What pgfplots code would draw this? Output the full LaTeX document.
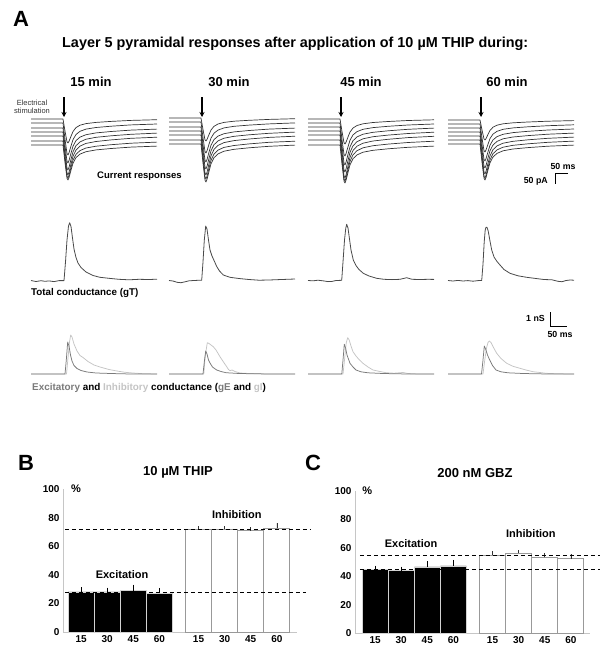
\documentclass[border=0pt]{standalone}
\usepackage{pgfplots}
\pgfplotsset{compat=1.18}
\usepackage{pgfplotstable}
\usepackage{fontspec}
\setmainfont{Liberation Sans}
\usetikzlibrary{arrows.meta}
\definecolor{gEc}{HTML}{7A7A7A}
\definecolor{gIc}{HTML}{C4C4C4}
\definecolor{gTc}{HTML}{4A4A4A}
\definecolor{trc}{HTML}{333333}
\newcommand{\fs}[1]{\fontsize{#1}{#1}\selectfont}

% current traces: x (local, px-like time units), 7 traces (downward position)
\pgfplotstableread{
x a b c d e f g
0 119 123 128 132 136 141 145
32 119 123 128 132 136 141 145
34 131 139 145.5 151 155.5 159.5 162.5
36 141.8 153.4 161.3 168.1 173 176.2 178.3
37 143 155 163 170 175 178 180
38 141.3 152.8 160.6 167.3 172.3 175.4 177.6
40 136.3 146 153.2 159.4 164.1 167.6 170.2
42 131.5 139.6 146.2 151.8 156.3 160.2 163.2
45 127.6 134.5 140.6 145.7 150 154.3 157.6
49 125.2 131.3 137.1 141.9 146.1 150.6 154.1
55 123.6 129.1 134.7 139.2 143.4 148 151.7
65 122.4 127.5 132.9 137.3 141.5 146.2 149.9
80 121.4 126.2 131.5 135.8 139.9 144.7 148.5
100 120.4 124.9 130.1 134.3 138.3 143.2 147.1
126 119.7 124 129.1 133.1 137.2 142.1 146.1
}\curA
\pgfplotstableread{
x a b c d e f g
0 118 122 127 131 135 140 144
32 118 122 127 131 135 140 144
34 129.5 137.5 144.5 150 155 159.5 163
36 139.9 151.5 160.3 167.1 173 177 180.1
37 141 153 162 169 175 179 182
38 139.4 150.8 159.6 166.3 172.2 176.3 179.3
40 134.6 144.3 152.2 158.4 163.8 168.1 171.4
42 130 138.1 145.2 150.8 155.8 160.3 163.8
45 126.3 133.2 139.6 144.7 149.4 154 157.7
49 124 130.1 136.1 140.9 145.4 150.1 153.9
55 122.4 127.9 133.7 138.2 142.6 147.4 151.2
65 121.2 126.3 131.9 136.3 140.6 145.5 149.3
80 120.3 125.1 130.5 134.8 139 143.9 147.8
100 119.4 123.9 129.1 133.3 137.4 142.3 146.3
126 118.7 122.9 128.1 132.1 136.2 141.2 145.1
}\curB
\pgfplotstableread{
x a b c d e f g
0 119 123 127 131 135 140 145
32 119 123 127 131 135 140 145
34 131.5 139.5 146 151.5 156.5 160.5 164
36 142.8 154.4 163.1 170 175.9 179 181.1
37 144 156 165 172 178 181 183
38 142.3 153.7 162.3 169.1 175 178.1 180.3
40 137 146.8 154.4 160.5 166 169.5 172.4
42 132 140.2 146.8 152.3 157.4 161.3 164.8
45 128 134.9 140.7 145.8 150.5 154.8 158.7
49 125.5 131.6 136.9 141.7 146.2 150.7 154.9
55 123.8 129.3 134.2 138.8 143.2 147.8 152.2
65 122.5 127.6 132.3 136.7 141 145.7 150.3
80 121.5 126.3 130.8 135.1 139.3 144.1 148.8
100 120.5 125 129.3 133.5 137.6 142.5 147.3
126 119.8 124 128.1 132.2 136.3 141.2 146.1
}\curC
\pgfplotstableread{
x a b c d e f g
0 120 124 128 132 136 140 144
32 120 124 128 132 136 140 144
34 130 138 144.5 150 155 159 162
36 139 150.6 159.4 166.2 172.1 176.1 178.2
37 140 152 161 168 174 178 180
38 138.6 150 158.7 165.5 171.3 175.3 177.5
40 134.4 144.2 151.8 157.9 163.4 167.4 169.9
42 130.4 138.6 145.2 150.7 155.8 159.8 162.7
45 127.2 134.1 139.9 145 149.7 153.7 157
49 125.2 131.3 136.6 141.4 145.9 149.9 153.4
55 123.8 129.3 134.3 138.8 143.2 147.2 150.8
65 122.8 127.9 132.6 137 141.3 145.3 149
80 122 126.8 131.3 135.6 139.8 143.8 147.6
100 121.2 125.7 130 134.2 138.3 142.3 146.2
126 120.6 124.8 129 133.1 137.1 141.1 145.1
}\curD

\pgfplotsset{
  trace/.style={hide axis, x=1pt, y=1pt, xmin=0, xmax=126, clip=false,
    anchor=north west, y filter/.expression={-y}},
  rowI/.style={trace, ymin=-186, ymax=-95},
  rowT/.style={trace, ymin=-290, ymax=-215},
  rowE/.style={trace, ymin=-378, ymax=-330},
  cur/.style={trc, line width=0.7pt, line join=round},
  stim/.style={black, line width=1.3pt, -{Stealth[length=5pt,width=5pt]}},
  gT/.style={gTc, line width=0.8pt, line join=round},
  gE/.style={gEc, line width=0.75pt, line join=round},
  gI/.style={gIc, line width=0.75pt, line join=round},
  sbar/.style={black, line width=0.9pt},
  barax/.style={x=26.1pt, ymin=0, ymax=100, clip=false,
    axis x line*=bottom, axis y line*=left,
    axis line style={draw=gray!45, line width=0.8pt},
    ytick={0,20,40,60,80,100},
    xtick={1,2,3,4,5.5,6.5,7.5,8.5},
    xticklabels={15,30,45,60,15,30,45,60},
    major tick length=0pt,
    /pgf/number format/assume math mode=true,
    ticklabel style={font=\fs{10}\bfseries},
    anchor=south west},
  exbar/.style={ybar, bar width=1, bar shift=0pt, fill=black, draw=gray!35, line width=0.7pt,
    error bars/.cd, y dir=plus, y explicit, error mark=none,
    error bar style={line width=0.6pt, black}},
  inbar/.style={ybar, bar width=1, bar shift=0pt, fill=white, draw=gray!80, line width=0.9pt,
    error bars/.cd, y dir=plus, y explicit, error mark=none,
    error bar style={line width=0.6pt, black!80}},
  dline/.style={black, line width=0.9pt, dash pattern=on 4pt off 3pt},
}

\begin{document}
\begin{tikzpicture}
\path[use as bounding box] (0pt,0pt) rectangle (604pt,-653pt);

% ---- texts, panel A ----
\node[anchor=base west, inner sep=0pt, font=\fs{22}\bfseries] at (13pt,-26pt) {A};
\node[anchor=base west, inner sep=0pt, font=\fs{14.4}\bfseries] at (62pt,-47pt)
  {Layer 5 pyramidal responses after application of 10 µM THIP during:};
\foreach \xx/\tt in {91/15, 229/30, 361/45, 507/60}
  \node[anchor=base, inner sep=0pt, font=\fs{13}\bfseries] at (\xx pt,-86pt) {\tt\ min};
\node[anchor=base, inner sep=0pt, font=\fs{7.5}, text=black!80] at (32pt,-105.5pt) {Electrical};
\node[anchor=base, inner sep=0pt, font=\fs{7.5}, text=black!80] at (32pt,-113pt) {stimulation};
\node[anchor=base west, inner sep=0pt, font=\fs{9.5}\bfseries] at (97pt,-178.5pt) {Current responses};
\node[anchor=base, inner sep=0pt, font=\fs{8.8}\bfseries] at (563pt,-169pt) {50 ms};
\node[anchor=base east, inner sep=0pt, font=\fs{8.8}\bfseries] at (548pt,-183pt) {50 pA};
\node[anchor=base west, inner sep=0pt, font=\fs{9.8}\bfseries] at (31pt,-295.5pt) {Total conductance (gT)};
\node[anchor=base east, inner sep=0pt, font=\fs{8.8}\bfseries] at (545pt,-321pt) {1 nS};
\node[anchor=base, inner sep=0pt, font=\fs{8.8}\bfseries] at (560pt,-337pt) {50 ms};
\node[anchor=base west, inner sep=0pt, font=\fs{9.9}\bfseries] at (32pt,-390pt)
  {\textcolor{gEc}{Excitatory} and \textcolor{gIc}{Inhibitory} conductance (\textcolor{gEc}{gE} and \textcolor{gIc}{gI})};

% ---- row 1: current responses ----
\begin{axis}[rowI, at={(31pt,-95pt)}]
  \pgfplotsinvokeforeach{1,...,7}{\addplot[cur] table[x index=0, y index=#1]{\curA};}
  \addplot[stim] coordinates {(33,97) (33,117)};
\end{axis}
\begin{axis}[rowI, at={(169pt,-95pt)}]
  \pgfplotsinvokeforeach{1,...,7}{\addplot[cur] table[x index=0, y index=#1]{\curB};}
  \addplot[stim] coordinates {(33,97) (33,117)};
\end{axis}
\begin{axis}[rowI, at={(308pt,-95pt)}]
  \pgfplotsinvokeforeach{1,...,7}{\addplot[cur] table[x index=0, y index=#1]{\curC};}
  \addplot[stim] coordinates {(33,97) (33,117)};
\end{axis}
\begin{axis}[rowI, at={(448pt,-95pt)}]
  \pgfplotsinvokeforeach{1,...,7}{\addplot[cur] table[x index=0, y index=#1]{\curD};}
  \addplot[stim] coordinates {(33,97) (33,117)};
  \addplot[sbar] coordinates {(120,173) (107,173) (107,184)};
\end{axis}

% ---- row 2: total conductance ----
\begin{axis}[rowT, at={(31pt,-215pt)}]
  \addplot[gT] coordinates {(0,280.5)(5,281.5)(10,280.7)(14,281.3)(18,280.9)(23,281.6)(28,280.6)(33,280.6)(34.5,262)(36,240)(37.5,226)(38.7,222.7)(40,226.5)(41.5,238)(43,249)(45,257.5)(47,263)(50,267.5)(55,272)(62,275.5)(69,277.3)(78,278.3)(88,279.3)(98,279.8)(108,279.3)(118,279.5)(126,279.2)};
\end{axis}
\begin{axis}[rowT, at={(169pt,-215pt)}]
  \addplot[gT] coordinates {(0,280.5)(4,281)(8,282.3)(12,282.7)(16,281.8)(20,280.8)(25,280.5)(29,280.3)(32.7,280.3)(34,262)(35.3,240)(36.7,226)(38,229)(39.5,240)(41,250)(43,256)(45.5,261.5)(47.7,266.5)(50.5,271)(54.3,275)(61,277.3)(70,278.5)(80,279.5)(90,280.2)(100,280)(110,279.6)(118,279.3)(126,279)};
\end{axis}
\begin{axis}[rowT, at={(308pt,-215pt)}]
  \addplot[gT] coordinates {(0,280.5)(5,280.8)(10,280.2)(15,280.8)(20,281.6)(24,281.4)(28,280.5)(33.7,280.3)(35,262)(36.5,240)(37.8,228)(38.7,224.3)(40,228)(41.5,239)(43,250)(45.3,260)(48,265.5)(51,269.5)(55.3,273.3)(61,276)(68.7,278.3)(76,279.3)(84,279.6)(92,279.3)(98.7,277.7)(104,279.3)(112,279.5)(120,279.3)(126,279.4)};
\end{axis}
\begin{axis}[rowT, at={(448pt,-215pt)}]
  \addplot[gT] coordinates {(0,280.5)(5,281)(10,280.4)(15,281)(20,280.6)(25,281.2)(30,280.6)(33.7,280.5)(35,264)(36.2,242)(37.2,230)(38,227.3)(39,227.3)(40.2,231)(41.8,240)(43.7,250)(46,257)(49,261.5)(52,265)(56,269.5)(62,273.3)(70,275.8)(78.7,277.3)(88,278.5)(96,279.5)(104,279.8)(110,281.3)(114,281.7)(118,280.5)(122,280)(126,280.2)};
\end{axis}

% ---- row 3: gE and gI ----
\begin{axis}[rowE, at={(31pt,-330pt)}]
  \addplot[gI] coordinates {(0,374)(35.5,374)(37,358)(38.5,342)(39.7,335)(41,337)(43,344)(46,351)(49,355.5)(52,357.5)(57,361.5)(63,365)(69,367)(78,369.5)(86,371)(94,372.3)(102,373)(112,373.7)(126,374)};
  \addplot[gE] coordinates {(0,374)(34,374)(35.3,360)(36.7,342)(38,346)(39.5,355)(41,361)(43,365.5)(46,368.5)(50,370.5)(56,372)(65,373)(80,373.5)(100,374)(126,374)};
\end{axis}
\begin{axis}[rowE, at={(169pt,-330pt)}]
  \addplot[gI] coordinates {(0,374)(34.8,374)(36.2,356)(38.3,342.7)(40,343.5)(42,345)(44.3,346.7)(47,350)(51,356.7)(54.5,362)(57.7,366.7)(59.5,369.5)(61,370.7)(63,370)(66,371.5)(71,373)(80,373.5)(100,374)(126,374)};
  \addplot[gE] coordinates {(0,374)(34,374)(35.3,362)(36.7,351)(38,354)(39.5,360)(41,363)(43.5,367)(47.7,370)(52,371.5)(57,372.7)(70,373.5)(100,374)(126,374)};
\end{axis}
\begin{axis}[rowE, at={(308pt,-330pt)}]
  \addplot[gI] coordinates {(0,374)(35,374)(36.5,360)(38.2,343)(39.7,337.7)(41.2,340)(43,346)(45,351.7)(48,356)(51,359.5)(55,363.3)(60,367)(65,370)(72,371.5)(78,372.7)(86,373.2)(95,372.5)(100,373.5)(110,374)(126,374)};
  \addplot[gE] coordinates {(0,374)(33.8,374)(35,360)(36.3,344.3)(37.6,348)(39,355)(42,363.3)(45,367)(48,370)(53,371.8)(60,372.8)(75,373.5)(100,374)(126,374)};
\end{axis}
\begin{axis}[rowE, at={(448pt,-330pt)}]
  \addplot[gI] coordinates {(0,374)(35,374)(36.5,362)(38.5,348)(40,342.5)(41.3,341)(43,342.5)(45.5,347.5)(48.7,353.3)(53,358.5)(58.7,363.3)(65,366.3)(72,368.3)(78,370)(85,371.7)(92,372.5)(98,373.3)(110,373.8)(126,374)};
  \addplot[gE] coordinates {(0,374)(33.5,374)(34.8,362)(36.3,346)(37.6,349)(39.5,355)(41.7,360)(44.5,365.5)(48,370)(53,371.8)(60,372.8)(75,373.5)(100,374)(126,374)};
  \addplot[sbar] coordinates {(102,312) (102,326) (119,326)};
\end{axis}

% ---- panel B ----
\node[anchor=base west, inner sep=0pt, font=\fs{22}\bfseries] at (18pt,-470pt) {B};
\node[anchor=base, inner sep=0pt, font=\fs{13}\bfseries] at (178pt,-475pt) {10 µM THIP};
\begin{axis}[barax, y=1.43pt, xmin=0.307, xmax=9.27, at={(63pt,-632pt)}]
  \addplot[exbar] coordinates {(1,28.0) +- (0,3.2) (2,28.0) +- (0,3.0) (3,29.0) +- (0,4.2) (4,27.2) +- (0,3.6)};
  \addplot[inbar] coordinates {(5.5,72.0) +- (0,2.0) (6.5,72.0) +- (0,2.0) (7.5,70.8) +- (0,2.6) (8.5,72.4) +- (0,3.8)};
  \addplot[dline] coordinates {(0.38,71.8) (9.77,71.8)};
  \addplot[dline] coordinates {(0.38,27.8) (9.6,27.8)};
  \node[anchor=west, inner sep=0pt, font=\fs{11}\bfseries] at (axis cs:0.61,100) {\%};
  \node[inner sep=0pt, font=\fs{11}\bfseries] at (axis cs:2.57,39.9) {Excitation};
  \node[inner sep=0pt, font=\fs{11}\bfseries] at (axis cs:6.97,81.8) {Inhibition};
\end{axis}

% ---- panel C ----
\node[anchor=base west, inner sep=0pt, font=\fs{22}\bfseries] at (305pt,-470pt) {C};
\node[anchor=base, inner sep=0pt, font=\fs{13}\bfseries] at (475pt,-477pt) {200 nM GBZ};
\begin{axis}[barax, y=1.42pt, xmin=0.23, xmax=9.23, at={(355pt,-633pt)}]
  \addplot[exbar] coordinates {(1,44.7) +- (0,2.8) (2,44.0) +- (0,2.8) (3,46.5) +- (0,4.0) (4,47.2) +- (0,4.3)};
  \addplot[inbar] coordinates {(5.5,54.8) +- (0,2.8) (6.5,56.0) +- (0,2.4) (7.5,53.2) +- (0,3.3) (8.5,52.2) +- (0,3.3)};
  \addplot[dline] coordinates {(0.42,54.4) (9.62,54.4)};
  \addplot[dline] coordinates {(0.42,44.7) (9.62,44.7)};
  \node[anchor=west, inner sep=0pt, font=\fs{11}\bfseries] at (axis cs:0.5,100) {\%};
  \node[inner sep=0pt, font=\fs{11}\bfseries] at (axis cs:2.38,62.7) {Excitation};
  \node[inner sep=0pt, font=\fs{11}\bfseries] at (axis cs:6.97,69.7) {Inhibition};
\end{axis}
\end{tikzpicture}
\end{document}
